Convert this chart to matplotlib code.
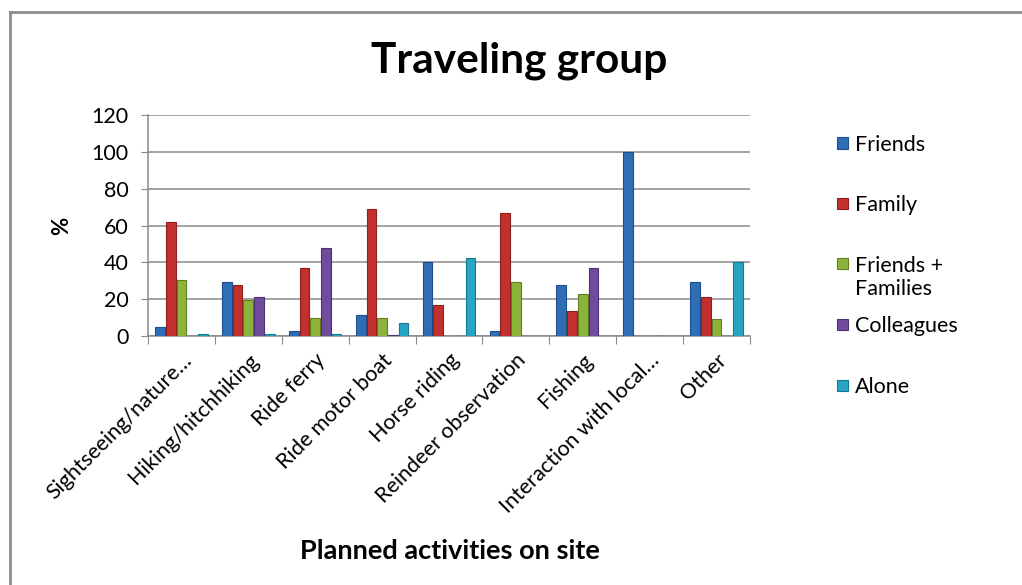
import matplotlib.pyplot as plt
import numpy as np
from matplotlib.lines import Line2D
from matplotlib.patches import Rectangle

plt.rcParams["font.family"] = ["Lato", "DejaVu Sans"]

activities = [
    "Sightseeing/nature…",
    "Hiking/hitchhiking",
    "Ride ferry",
    "Ride motor boat",
    "Horse riding",
    "Reindeer observation",
    "Fishing",
    "Interaction with local…",
    "Other",
]
series = ["Friends", "Family", "Friends +\nFamilies", "Colleagues", "Alone"]

friends = [5, 29.5, 2.7, 11.3, 40, 2.7, 27.5, 100, 29.3]
family = [61.7, 27.6, 36.7, 68.8, 16.8, 66.7, 13.6, 0, 21.4]
friends_families = [30.5, 19.6, 10, 10, 0, 29.3, 22.6, 0, 9]
colleagues = [0, 21.4, 47.8, 0.8, 0, 0, 36.8, 0, 0]
alone = [1, 1, 1, 6.9, 42.5, 0, 0, 0, 40]

colors = ["#2f6db5", "#c2312e", "#8cb43a", "#6f4d9c", "#26a6c4"]
edges = ["#1d4f8a", "#8e1f1c", "#617e22", "#4c3272", "#17798f"]

W, H = 1022, 585
fig = plt.figure(figsize=(W / 100, H / 100), dpi=100)
fig.patch.set_facecolor("white")
# chart-area frame: only the left and top edges fall inside the picture
fig.add_artist(Line2D([10 / W, 10 / W], [0, 1 - 12 / H], transform=fig.transFigure,
                      color="#8c8c8c", linewidth=2))
fig.add_artist(Line2D([10 / W, 1], [1 - 12 / H, 1 - 12 / H], transform=fig.transFigure,
                      color="#8c8c8c", linewidth=2))

ax = fig.add_axes([0.1448, 0.4256, 0.589, 0.3778])
x = np.arange(len(activities))
step = 0.16
values = [friends, family, friends_families, colleagues, alone]
for i, (vals, c, e) in enumerate(zip(values, colors, edges)):
    ax.bar(x + (i - 2) * step, vals, width=0.145, color=c, edgecolor=e,
           linewidth=0.8, label=series[i], zorder=3)

ax.set_xlim(-0.5, len(activities) - 0.5)
ax.set_ylim(0, 120)
ax.set_yticks(range(0, 121, 20))
ax.yaxis.grid(True, color="#8a8a8a", linewidth=1.1, zorder=0)
ax.tick_params(axis="y", labelsize=15.5, length=5, color="#8a8a8a", pad=9)

ax.set_xticks(np.arange(-0.5, len(activities), 1.0))
ax.set_xticklabels([])
ax.set_xticks(x, minor=True)
ax.set_xticklabels(activities, minor=True, rotation=45, ha="right",
                   rotation_mode="anchor", fontsize=15.5)
ax.tick_params(axis="x", which="major", length=6, color="#8a8a8a")
ax.tick_params(axis="x", which="minor", length=0, pad=10)

for side in ["top", "right"]:
    ax.spines[side].set_visible(False)
for side in ["left", "bottom"]:
    ax.spines[side].set_color("#8a8a8a")
    ax.spines[side].set_linewidth(1.1)

ax.set_ylabel("%", fontsize=16, fontweight="bold", labelpad=14)
fig.text(0.44, 0.058, "Planned activities on site", ha="center", va="center",
         fontsize=19.5, fontweight="bold")
fig.text(0.508, 0.897, "Traveling group", ha="center", va="center",
         fontsize=30.5, fontweight="bold")

# Excel-style legend: fixed slots, a wrapped label spills below its slot
for i, (name, c, e) in enumerate(zip(series, colors, edges)):
    yc = 143 + 60.5 * i
    fig.add_artist(Rectangle((837 / W, 1 - (yc + 5.5) / H), 11 / W, 11 / H,
                             transform=fig.transFigure, facecolor=c,
                             edgecolor=e, linewidth=0.8))
    fig.text(855 / W, 1 - (yc - 8) / H, name, ha="left", va="top",
             fontsize=15.5, linespacing=1.2)

fig.savefig("out.png", dpi=100)
